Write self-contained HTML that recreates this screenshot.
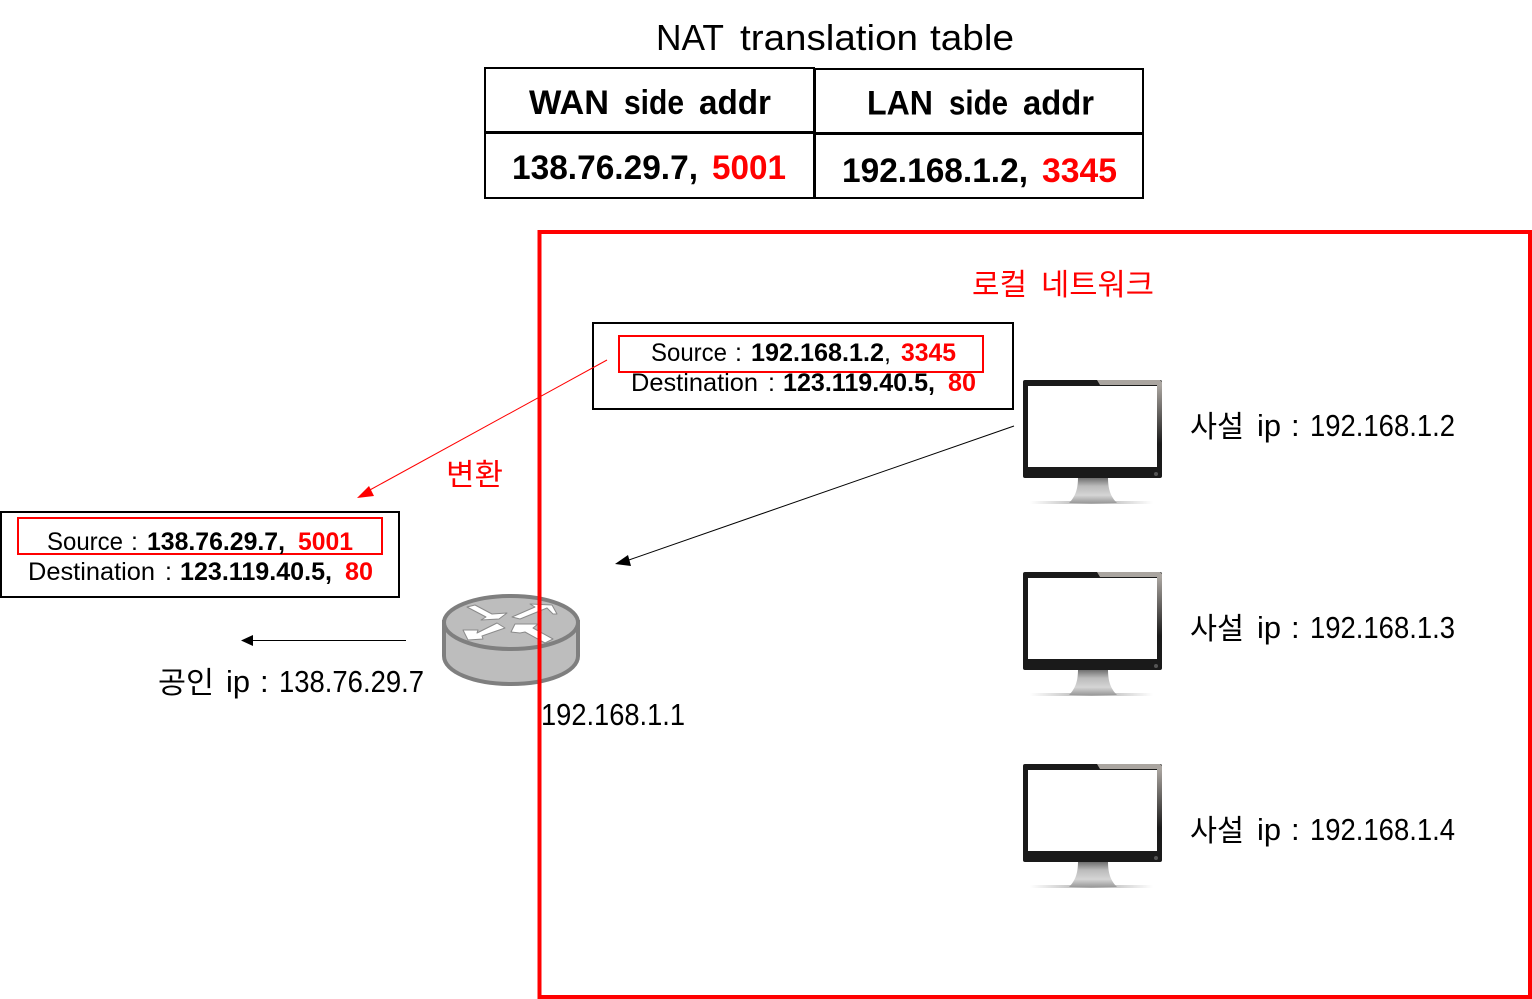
<!DOCTYPE html>
<html lang="ko"><head><meta charset="utf-8"><title>NAT translation</title>
<style>
html,body{margin:0;padding:0;background:#fff;width:1532px;height:999px;overflow:hidden}
svg{display:block}
text{font-family:"Liberation Sans","Noto Sans CJK KR",sans-serif;fill:#000}
.b{font-weight:700}
.r{fill:#f00}
</style></head><body>
<svg width="1532" height="999" viewBox="0 0 1532 999" xmlns="http://www.w3.org/2000/svg">
<defs>
<linearGradient id="st" x1="0" y1="0" x2="0" y2="1"><stop offset="0" stop-color="#666"/><stop offset=".35" stop-color="#bbb"/><stop offset=".7" stop-color="#d5d5d5"/><stop offset="1" stop-color="#999"/></linearGradient>
<linearGradient id="sh" x1="0" y1="0" x2="1" y2="0"><stop offset="0" stop-color="#fff"/><stop offset=".5" stop-color="#aaa"/><stop offset="1" stop-color="#fff"/></linearGradient>
<linearGradient id="ed" x1="0" y1="0" x2="0" y2="1"><stop offset="0" stop-color="#aaa5a0"/><stop offset=".7" stop-color="#1a1a1a"/></linearGradient>
<g id="mon">
<rect x="1030" y="501" width="123" height="3" fill="url(#sh)"/>
<path d="M1078 477H1108C1108 488 1110 496 1117 503H1069C1076 496 1078 488 1078 477Z" fill="url(#st)"/>
<rect x="1023" y="380" width="139" height="98" rx="2" fill="#1a1a1a"/>
<path d="M1097 380H1160L1162 382V385H1100Z" fill="#aaa5a0"/>
<rect x="1157" y="385" width="5" height="84" fill="url(#ed)"/>
<rect x="1028" y="386" width="129" height="81" fill="#fff"/>
<circle cx="1156" cy="474" r="2" fill="#555"/>
</g>
</defs>

<text x="656" y="50" font-size="36" textLength="68" lengthAdjust="spacingAndGlyphs">NAT</text>
<text x="740" y="50" font-size="36" textLength="178" lengthAdjust="spacingAndGlyphs">translation</text>
<text x="930" y="50" font-size="36" textLength="84" lengthAdjust="spacingAndGlyphs">table</text>
<g fill="none" stroke="#000">
<rect x="485" y="68" width="329" height="130" stroke-width="2"/>
<rect x="815" y="69" width="328" height="129" stroke-width="2"/>
<path d="M485 132.500H814M815 133.500H1143" stroke-width="3"/>
<path d="M814.500 68V198" stroke-width="3"/>
</g>
<g class="b" font-size="34">
<text class="b" x="529" y="114" textLength="80" lengthAdjust="spacingAndGlyphs">WAN</text>
<text class="b" x="624" y="114" textLength="60" lengthAdjust="spacingAndGlyphs">side</text>
<text class="b" x="699" y="114" textLength="72" lengthAdjust="spacingAndGlyphs">addr</text>
<text class="b" x="867" y="114.500" textLength="66" lengthAdjust="spacingAndGlyphs">LAN</text>
<text class="b" x="949" y="114.500" textLength="59" lengthAdjust="spacingAndGlyphs">side</text>
<text class="b" x="1023" y="114.500" textLength="71" lengthAdjust="spacingAndGlyphs">addr</text>
<text class="b" x="512" y="179" textLength="186" lengthAdjust="spacingAndGlyphs">138.76.29.7,</text>
<text class="b r" x="712" y="179" textLength="74" lengthAdjust="spacingAndGlyphs">5001</text>
<text class="b" x="842" y="182" textLength="186" lengthAdjust="spacingAndGlyphs">192.168.1.2,</text>
<text class="b r" x="1042" y="182" textLength="75" lengthAdjust="spacingAndGlyphs">3345</text>
</g>

<!-- router -->
<g stroke="#7f7f7f" stroke-width="4" fill="#bdbdbd">
<path d="M444 622V656C444 672 474 684 511 684S578 672 578 656V622Z"/>
<ellipse cx="511" cy="622.500" rx="67" ry="26.500"/>
</g>
<g fill="#fff" stroke="#8a8a8a" stroke-width="1" stroke-linejoin="round">
<path d="M467 607L475 605L492 614L507 613L499 619L481 620L486 617Z"/>
<path d="M512 617L520 619L547 608L553 614L557 614L552 605L530 604L535 607Z"/>
<path d="M463 630L468 640L483 639L482 636L505 628L497 623L477 633L478 630Z"/>
<path d="M515 624L538 624L533 628L553 639L545 643L525 632L520 633L511 632Z"/>
</g>

<!-- red frame -->
<rect x="539.500" y="232" width="990.500" height="765" fill="none" stroke="#f00" stroke-width="4"/>
<text class="r" x="972" y="295" font-size="30" textLength="55" lengthAdjust="spacingAndGlyphs">로컬</text>
<text class="r" x="1041" y="295" font-size="30" textLength="113" lengthAdjust="spacingAndGlyphs">네트워크</text>

<!-- monitors -->
<use href="#mon"/><use href="#mon" y="192"/><use href="#mon" y="384"/>

<text x="1190" y="437" font-size="30" textLength="54" lengthAdjust="spacingAndGlyphs">사설</text>
<text x="1257" y="436" font-size="31" textLength="24" lengthAdjust="spacingAndGlyphs">ip</text>
<text x="1291" y="436" font-size="31">:</text>
<text x="1310" y="436" font-size="31" textLength="145" lengthAdjust="spacingAndGlyphs">192.168.1.2</text>

<text x="1190" y="639" font-size="30" textLength="54" lengthAdjust="spacingAndGlyphs">사설</text>
<text x="1257" y="638" font-size="31" textLength="24" lengthAdjust="spacingAndGlyphs">ip</text>
<text x="1291" y="638" font-size="31">:</text>
<text x="1310" y="638" font-size="31" textLength="145" lengthAdjust="spacingAndGlyphs">192.168.1.3</text>

<text x="1190" y="841" font-size="30" textLength="54" lengthAdjust="spacingAndGlyphs">사설</text>
<text x="1257" y="840" font-size="31" textLength="24" lengthAdjust="spacingAndGlyphs">ip</text>
<text x="1291" y="840" font-size="31">:</text>
<text x="1310" y="840" font-size="31" textLength="145" lengthAdjust="spacingAndGlyphs">192.168.1.4</text>

<!-- upper packet box -->
<rect x="593" y="323" width="420" height="86" fill="#fff" stroke="#000" stroke-width="2"/>
<rect x="619" y="336" width="364" height="36" fill="none" stroke="#f00" stroke-width="2"/>
<text x="651" y="361" font-size="25" textLength="76" lengthAdjust="spacingAndGlyphs">Source</text>
<text x="735" y="361" font-size="25">:</text>
<text class="b" x="751" y="361" font-size="25" textLength="133" lengthAdjust="spacingAndGlyphs">192.168.1.2</text>
<text x="884" y="361" font-size="25">,</text>
<text class="b r" x="901" y="361" font-size="25" textLength="55" lengthAdjust="spacingAndGlyphs">3345</text>
<text x="631" y="391" font-size="25" textLength="127" lengthAdjust="spacingAndGlyphs">Destination</text>
<text x="768" y="391" font-size="25">:</text>
<text class="b" x="783" y="391" font-size="25" textLength="152" lengthAdjust="spacingAndGlyphs">123.119.40.5,</text>
<text class="b r" x="948" y="391" font-size="25" textLength="28" lengthAdjust="spacingAndGlyphs">80</text>

<!-- lower packet box -->
<rect x="1" y="512" width="398" height="85" fill="#fff" stroke="#000" stroke-width="2"/>
<rect x="18" y="518" width="364" height="36" fill="none" stroke="#f00" stroke-width="2"/>
<text x="47" y="550" font-size="25" textLength="76" lengthAdjust="spacingAndGlyphs">Source</text>
<text x="131" y="550" font-size="25">:</text>
<text class="b" x="147" y="550" font-size="25" textLength="138" lengthAdjust="spacingAndGlyphs">138.76.29.7,</text>
<text class="b r" x="298" y="550" font-size="25" textLength="55" lengthAdjust="spacingAndGlyphs">5001</text>
<text x="28" y="580" font-size="25" textLength="127" lengthAdjust="spacingAndGlyphs">Destination</text>
<text x="165" y="580" font-size="25">:</text>
<text class="b" x="180" y="580" font-size="25" textLength="152" lengthAdjust="spacingAndGlyphs">123.119.40.5,</text>
<text class="b r" x="345" y="580" font-size="25" textLength="28" lengthAdjust="spacingAndGlyphs">80</text>

<!-- connectors -->
<line x1="607" y1="360" x2="368" y2="491" stroke="#f00" stroke-width="1"/>
<path d="M357 498L369 486L374 496Z" fill="#f00"/>
<text class="r" x="446" y="485" font-size="30" textLength="57" lengthAdjust="spacingAndGlyphs">변환</text>
<line x1="1014" y1="426" x2="626" y2="561" stroke="#000" stroke-width="1"/>
<path d="M615 564L628 555L631 566Z" fill="#000"/>
<line x1="406" y1="640.500" x2="252" y2="640.500" stroke="#000" stroke-width="1"/>
<path d="M241 640.500L253 635V646Z" fill="#000"/>

<text x="158" y="693" font-size="30" textLength="56" lengthAdjust="spacingAndGlyphs">공인</text>
<text x="226" y="692" font-size="31" textLength="24" lengthAdjust="spacingAndGlyphs">ip</text>
<text x="260" y="692" font-size="31">:</text>
<text x="279" y="692" font-size="31" textLength="145" lengthAdjust="spacingAndGlyphs">138.76.29.7</text>
<text x="541" y="725" font-size="31" textLength="144" lengthAdjust="spacingAndGlyphs">192.168.1.1</text>
</svg>
</body></html>
